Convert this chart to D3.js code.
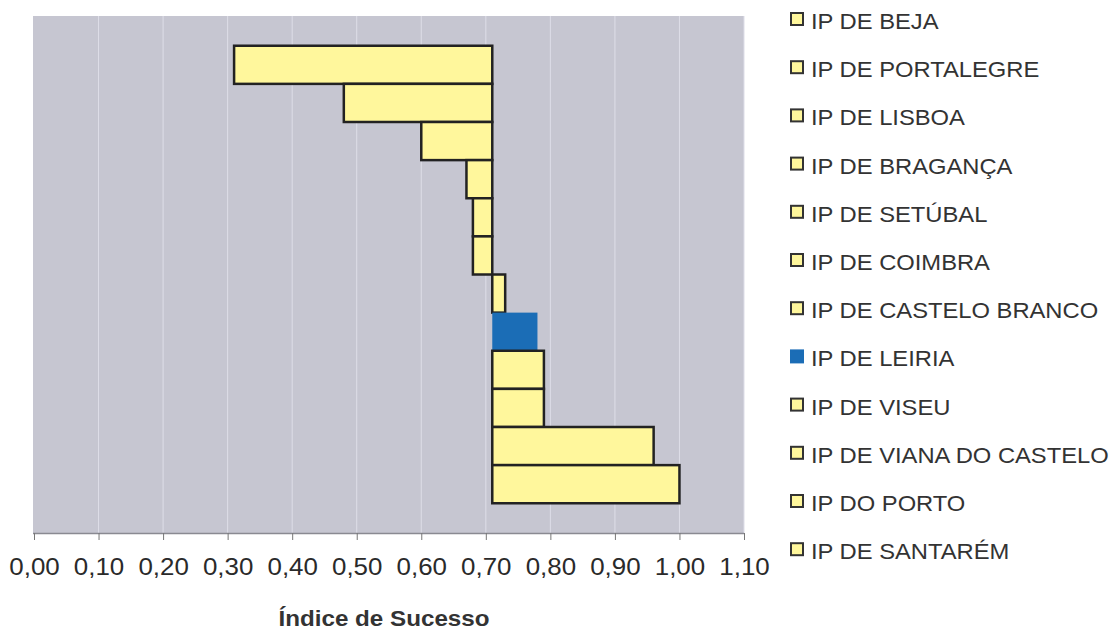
<!DOCTYPE html>
<html>
<head>
<meta charset="utf-8">
<script src="https://d3js.org/d3.v7.min.js"></script>
<style>
  body { margin: 0; background: #fff; font-family: Arial, "Liberation Sans", sans-serif; }
  svg { display: block; }
</style>
</head>
<body>
<script>
// institutes, top to bottom (same order as the legend)
var institutes = [
  "IP DE BEJA", "IP DE PORTALEGRE", "IP DE LISBOA", "IP DE BRAGANÇA",
  "IP DE SETÚBAL", "IP DE COIMBRA", "IP DE CASTELO BRANCO", "IP DE LEIRIA",
  "IP DE VISEU", "IP DE VIANA DO CASTELO", "IP DO PORTO", "IP DE SANTARÉM"
];
// success index per institute
var successIndex = [0.31, 0.48, 0.60, 0.67, 0.68, 0.68, 0.73, 0.78, 0.79, 0.79, 0.96, 1.00];
// bars start from this reference value
var baseline = 0.71;
var highlighted = "IP DE LEIRIA";
var tickValues = [0, 0.1, 0.2, 0.3, 0.4, 0.5, 0.6, 0.7, 0.8, 0.9, 1.0, 1.1];
var axisTitle = "Índice de Sucesso";

var W = 1117, H = 631;
var plot = {left: 33, right: 744, top: 16, bottom: 533};

var data = institutes.map(function(d, i) { return {name: d, value: successIndex[i]}; });

var svg = d3.select("body").append("svg").attr("width", W).attr("height", H);

var x = d3.scaleLinear().domain([0, 1.1]).range([34, plot.right]);
var y = d3.scaleBand().domain(institutes)
  .range([plot.top, plot.bottom]).paddingInner(0).paddingOuter(0.78);

// plot background
svg.append("rect")
  .attr("x", plot.left).attr("y", plot.top)
  .attr("width", plot.right - plot.left).attr("height", plot.bottom - plot.top)
  .attr("fill", "#c6c6d1");

// vertical gridlines
svg.append("g").selectAll("line").data(tickValues.slice(1)).enter().append("line")
  .attr("x1", function(d) { return x(d); }).attr("x2", function(d) { return x(d); })
  .attr("y1", plot.top).attr("y2", plot.bottom)
  .attr("stroke", "#dedee8").attr("stroke-width", 1);

// bars
svg.append("g").selectAll("rect").data(data).enter().append("rect")
  .attr("x", function(d) { return x(Math.min(d.value, baseline)); })
  .attr("width", function(d) { return Math.abs(x(d.value) - x(baseline)); })
  .attr("y", function(d) { return y(d.name); })
  .attr("height", y.bandwidth())
  .attr("fill", function(d) { return d.name == highlighted ? "#1b6db6" : "#fff79c"; })
  .attr("stroke", function(d) { return d.name == highlighted ? "none" : "#222"; })
  .attr("stroke-width", 2.5);

// x axis
var xAxis = d3.axisBottom(x).tickValues(tickValues).tickSize(7).tickPadding(9)
  .tickFormat(function(d) { return d3.format(".2f")(d).replace(".", ","); });
var gx = svg.append("g").attr("transform", "translate(0," + plot.bottom + ")").call(xAxis);
gx.select(".domain").attr("stroke", "#8a8a92").attr("stroke-width", 1.5)
  .attr("d", "M" + plot.left + ",0.5H" + plot.right);
gx.selectAll(".tick line").attr("stroke", "#777");
gx.selectAll(".tick text")
  .attr("font-size", 24).attr("fill", "#2a2a2a")
  .attr("font-family", "Arial, 'Liberation Sans', sans-serif")
  .attr("transform", "translate(0,9) scale(1.08,1)")
  .attr("x", 0);

// axis title
svg.append("text")
  .attr("transform", "translate(384,626) scale(1.1,1)")
  .attr("text-anchor", "middle")
  .attr("font-size", 22).attr("font-weight", "bold").attr("fill", "#333")
  .text(axisTitle);

// legend
var legend = svg.append("g").selectAll("g").data(data).enter().append("g")
  .attr("transform", function(d, i) { return "translate(791," + (29 + i * 48.2) + ")"; });
legend.append("rect")
  .attr("x", 0).attr("y", -16).attr("width", 12).attr("height", 12)
  .attr("fill", function(d) { return d.name == highlighted ? "#1b6db6" : "#fff79c"; })
  .attr("stroke", function(d) { return d.name == highlighted ? "#1b6db6" : "#333"; })
  .attr("stroke-width", 2);
legend.append("text")
  .attr("transform", "translate(20,0) scale(1.08,1)")
  .attr("font-size", 22).attr("fill", "#333")
  .text(function(d) { return d.name; });
</script>
</body>
</html>
